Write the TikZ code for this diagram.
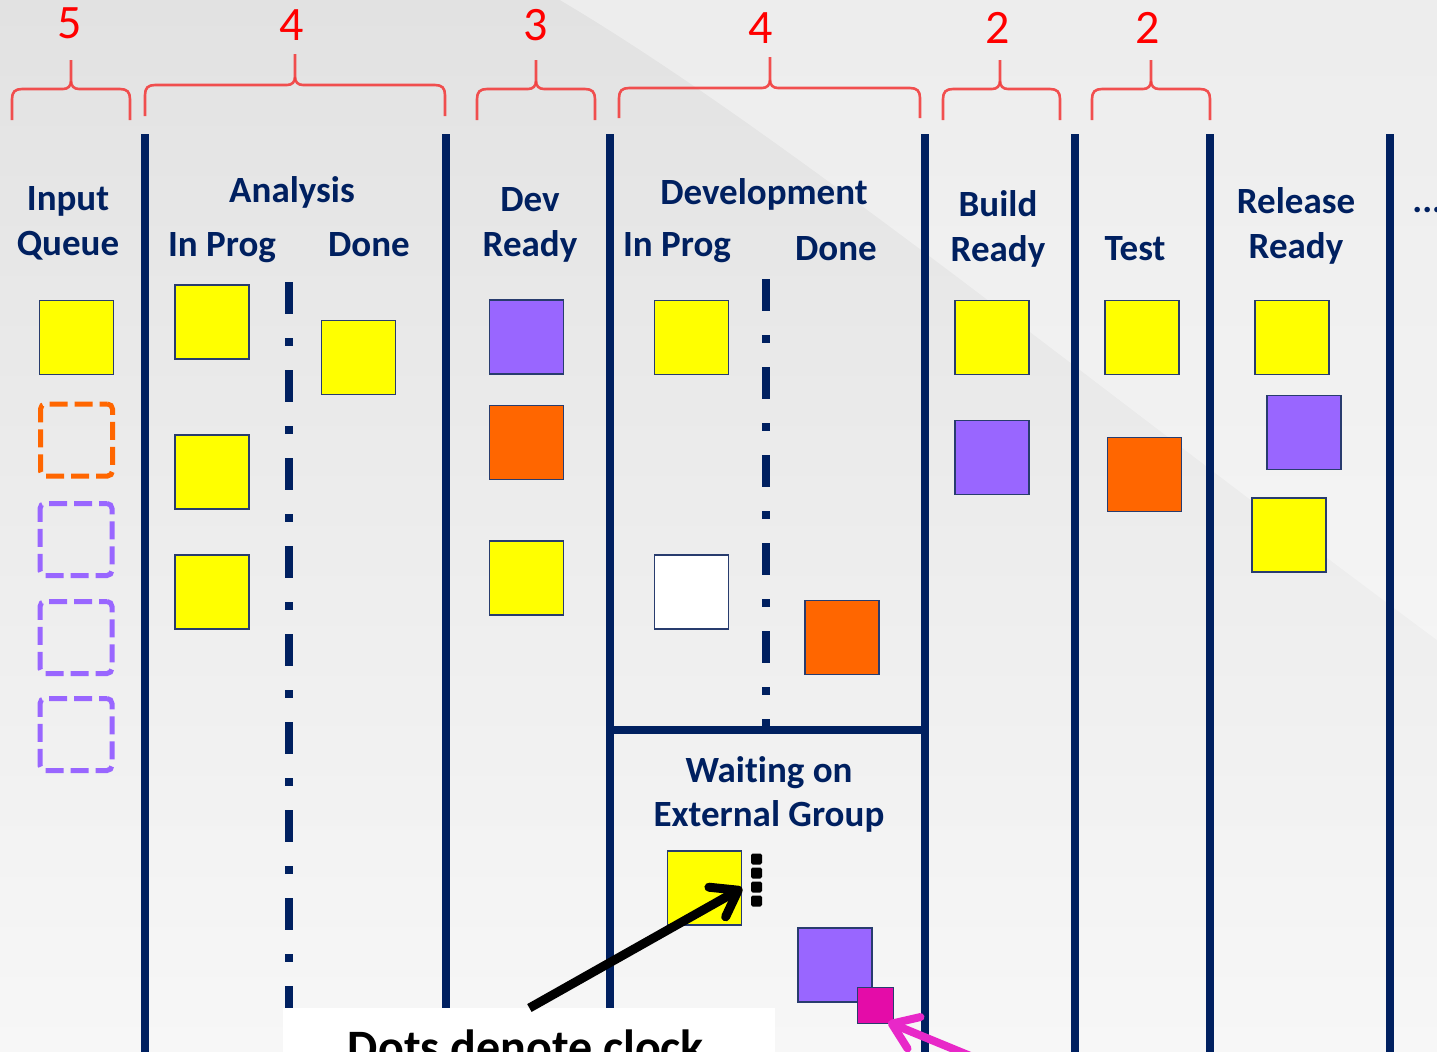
\documentclass[tikz,border=0pt]{standalone}
\usepackage{fontspec}
\setmainfont{Carlito}[Ligatures=NoCommon]
\usetikzlibrary{arrows.meta}
\definecolor{navy}{RGB}{0,32,96}
\definecolor{kyellow}{RGB}{255,255,0}
\definecolor{korange}{RGB}{255,102,0}
\definecolor{kpurple}{RGB}{153,102,255}
\definecolor{kmagenta}{RGB}{228,12,168}
\definecolor{kpink}{RGB}{232,40,200}
\definecolor{kedge}{RGB}{40,60,110}
\definecolor{bracered}{RGB}{242,62,62}
\definecolor{bgtop}{RGB}{226,226,226}
\definecolor{bgbottom}{RGB}{247,247,247}

\tikzset{
  hdr/.style={font=\bfseries\fontsize{18.5}{22.5}\selectfont, text=navy, inner sep=0, anchor=base},
  wip/.style={font=\fontsize{24}{28}\selectfont, text=red, inner sep=0, anchor=base},
  bracket/.style={draw=bracered, line width=1.3pt, opacity=0.9},
  colline/.style={draw=navy, line width=3.6pt},
  splitline/.style={draw=navy, line width=4pt, dash pattern=on 16pt off 12pt on 4pt off 12pt},
  card/.style={draw=kedge, line width=0.6pt, minimum size=37pt, inner sep=0},
  slot/.style={line width=2.5pt, rounded corners=2.5pt, minimum size=36pt, inner sep=0,
               dash pattern=on 9pt off 3.5pt, dash phase=5pt},
  clockdot/.style={fill=black, rounded corners=0.8pt, minimum size=5.5pt, inner sep=0},
  pointer/.style={line width=4.5pt, -{Straight Barb[length=12pt,width=17pt,round]}},
}

\begin{document}
\begin{tikzpicture}[x=0.5pt,y=-0.5pt]
\useasboundingbox (0,0) rectangle (1437,1051);
\clip (0,0) rectangle (1437,1051);

% backdrop: soft grey gradient with a lighter sweep in the upper right
\shade[top color=bgtop, bottom color=bgbottom] (0,0) rectangle (1437,1051);
\fill[white, opacity=0.38] (560,0) .. controls (780,130) and (1100,390) .. (1437,640) -- (1437,0) -- cycle;

% WIP limit brackets
\foreach \xa/\xb/\xm/\yb/\yh/\yt in {12/130/71/120/89/60, 145/445/295/116/85/54, 477/595/536/120/89/60,
                                      619/920/770/118/88/57, 943/1060/1000/120/89/60, 1092/1210/1151/120/89/60}{
  \draw[bracket] (\xa,\yb) -- (\xa,\yh+10) .. controls (\xa,\yh+3) and (\xa+3,\yh) .. (\xa+10,\yh)
        -- (\xm-8,\yh) .. controls (\xm-3,\yh) and (\xm,\yh-3) .. (\xm,\yh-8) -- (\xm,\yt);
  \draw[bracket] (\xb,\yb) -- (\xb,\yh+10) .. controls (\xb,\yh+3) and (\xb-3,\yh) .. (\xb-10,\yh)
        -- (\xm+8,\yh) .. controls (\xm+3,\yh) and (\xm,\yh-3) .. (\xm,\yh-8);
}

% WIP limits
\node[wip] (lim1) at (70,38) {5};
\node[wip] (lim2) at (292,40) {4};
\node[wip] (lim3) at (536,40) {3};
\node[wip] (lim4) at (761,43) {4};
\node[wip] (lim5) at (998,43) {2};
\node[wip] (lim6) at (1148,43) {2};

% column dividers
\foreach \x in {145,610,925,1075,1210,1390}{
  \draw[colline] (\x,134) -- (\x,1060);
}
\draw[colline] (446,134) -- (446,1010);
\draw[colline] (606,730) -- (926.8,730);

% in progress / done splits
\draw[splitline] (289,282) -- (289,1010);
\draw[splitline] (766,279) -- (766,728);

% column headings
\node[hdr] (hIn1) at (68,210) {Input};
\node[hdr] (hIn2) at (68,255) {Queue};
\node[hdr] (hAn) at (292,202) {Analysis};
\node[hdr] (hAnP) at (222,256) {In Prog};
\node[hdr] (hAnD) at (369,256) {Done};
\node[hdr] (hDr1) at (530,211) {Dev};
\node[hdr] (hDr2) at (530,256) {Ready};
\node[hdr] (hDv) at (764,204) {Development};
\node[hdr] (hDvP) at (677,256) {In Prog};
\node[hdr] (hDvD) at (836,260) {Done};
\node[hdr] (hBr1) at (998,216) {Build};
\node[hdr] (hBr2) at (998,261) {Ready};
\node[hdr] (hTs) at (1135,260) {Test};
\node[hdr] (hRr1) at (1296,213) {Release};
\node[hdr] (hRr2) at (1296,258) {Ready};
\node[hdr, anchor=base west] (hMore) at (1412,212) {...};
\node[hdr] (hW1) at (769,782) {Waiting on};
\node[hdr] (hW2) at (769,826) {External Group};

% input queue
\node[card, fill=kyellow] (iq1) at (76.5,337.5) {};
\node[slot, draw=korange] (iq2) at (76.5,440) {};
\node[slot, draw=kpurple] (iq3) at (76,539.5) {};
\node[slot, draw=kpurple] (iq4) at (76,637.5) {};
\node[slot, draw=kpurple] (iq5) at (76,734.5) {};

% analysis
\node[card, fill=kyellow] (an1) at (212,322) {};
\node[card, fill=kyellow] (an2) at (212,472) {};
\node[card, fill=kyellow] (an3) at (212,592) {};
\node[card, fill=kyellow] (ad1) at (358.5,357.5) {};

% dev ready
\node[card, fill=kpurple] (dr1) at (526.5,337) {};
\node[card, fill=korange] (dr2) at (526.5,442.5) {};
\node[card, fill=kyellow] (dr3) at (526.5,578) {};

% development
\node[card, fill=kyellow] (dp1) at (691.5,337.5) {};
\node[card, fill=white] (dp2) at (691.5,592) {};
\node[card, fill=korange] (dd1) at (842,637.5) {};

% build ready
\node[card, fill=kyellow] (br1) at (992,337.5) {};
\node[card, fill=kpurple] (br2) at (992,457.5) {};

% test
\node[card, fill=kyellow] (ts1) at (1142,337.5) {};
\node[card, fill=korange] (ts2) at (1144.5,474.5) {};

% release ready
\node[card, fill=kyellow] (rr1) at (1292,337.5) {};
\node[card, fill=kpurple] (rr2) at (1304,432.5) {};
\node[card, fill=kyellow] (rr3) at (1289,535) {};

% waiting on external group
\node[card, fill=kyellow] (wy) at (704.5,888) {};
\node[card, fill=kpurple] (wp) at (835,965) {};
\node[card, fill=kmagenta, minimum size=18pt] (wm) at (875.5,1005.5) {};

% clock dots
\node[clockdot] (d1) at (756.5,859) {};
\node[clockdot] (d2) at (756.5,873) {};
\node[clockdot] (d3) at (756.5,887) {};
\node[clockdot] (d4) at (756.5,901) {};

% caption
\node[fill=white, minimum width=246pt, minimum height=40pt, inner sep=0, anchor=north west] (note) at (283,1008) {};
\node[font=\bfseries\fontsize{24}{28}\selectfont, text=black, inner sep=0, anchor=north] (noteText) at (526,1029) {Dots denote clock};

% pointers
\draw[pointer, draw=black] (note.north) -- (wy.east);
\coordinate (pinkFrom) at (985,1062);
\draw[pointer, draw=kpink, line width=4pt] (pinkFrom) -- ([xshift=-3pt,yshift=1pt]wm.south east);
\end{tikzpicture}
\end{document}
